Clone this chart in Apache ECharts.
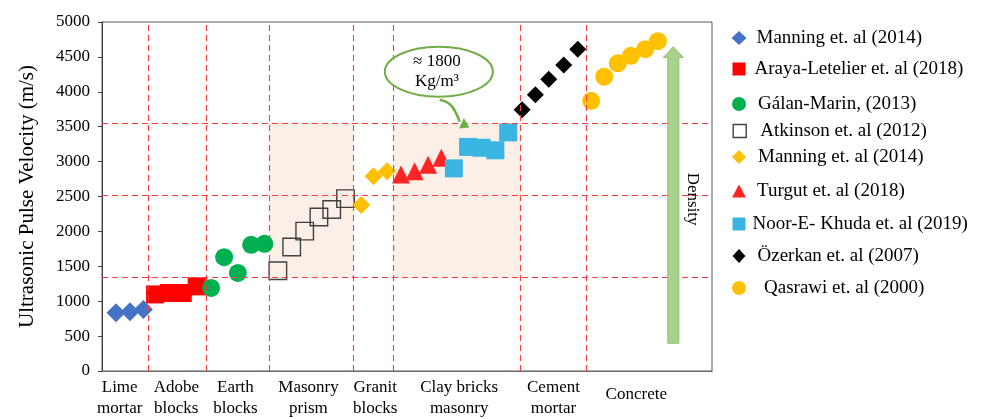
<!DOCTYPE html>
<html>
<head>
<meta charset="utf-8">
<title>Ultrasonic Pulse Velocity by material</title>
<script src="https://cdn.jsdelivr.net/npm/echarts@6/dist/echarts.min.js"></script>
<style>
  html, body { margin: 0; padding: 0; background: #ffffff; }
  #chart { width: 984px; height: 419px; }
</style>
</head>
<body>
<div id="chart"></div>
<script>
// ---- Material groups along the horizontal axis (position units 0..100) ----
const categories = ['Lime\nmortar', 'Adobe\nblocks', 'Earth\nblocks', 'Masonry\nprism', 'Granit\nblocks', 'Clay bricks\nmasonry', 'Cement\nmortar', 'Concrete'];
const categoryEdges = [7.50, 17.11, 27.35, 41.24, 47.80, 68.59, 79.42];
const categoryLabelAt = [2.90, 12.18, 21.87, 33.85, 44.80, 58.55, 74.01, 87.59];

// ---- Density band limits (UPV, m/s) ----
const densityBands = [1340, 2520, 3555];
// shaded groups: [from, to] along the position axis
const shadedGroups = [[27.35, 41.24], [47.80, 68.59]];

// ---- Measured points: position along axis and UPV (m/s) ----
const manningLimePos = [2.30, 4.59, 6.78];
const manningLimeUpv = [835, 850, 880];

const arayaPos = [8.70, 10.99, 13.24, 15.52];
const arayaUpv = [1097, 1117, 1117, 1212];

const galanPos = [17.89, 20.02, 22.27, 24.45, 26.63];
const galanUpv = [1190, 1630, 1405, 1808, 1822];

const atkinsonPos = [28.83, 31.10, 33.23, 35.56, 37.66, 39.92];
const atkinsonUpv = [1437, 1776, 2004, 2206, 2313, 2469];

const manningGranitePos = [42.50, 44.52, 46.72];
const manningGraniteUpv = [2377, 2790, 2860];

const turgutPos = [49.02, 51.25, 53.45, 55.63];
const turgutUpv = [2815, 2860, 2955, 3055];

const noorPos = [57.68, 60.01, 62.24, 64.49, 66.59];
const noorUpv = [2903, 3210, 3198, 3162, 3418];

const ozerkanPos = [68.87, 71.05, 73.24, 75.70, 77.99];
const ozerkanUpv = [3743, 3957, 4180, 4384, 4611];

const qasrawiPos = [80.19, 82.33, 84.56, 86.69, 89.05, 91.12];
const qasrawiUpv = [3871, 4217, 4408, 4516, 4611, 4725];

// ---- Annotations ----
const densityArrow = { pos: 93.66, from: 398, to: 4644 };
const densityLabel = { pos: 96.75, upv: 2462, text: 'Density' };
const calloutAnchor = { pos: 55.22, upv: 4288 };
const calloutLines = ['\u2248 1800', 'Kg/m\u00B3'];

const SERIF = "'Liberation Serif', 'Times New Roman', serif";

function pairs(xs, ys) { return xs.map((x, i) => [x, ys[i]]); }

const seriesDefs = [
  { name: 'Manning et. al (2014)', pos: manningLimePos, upv: manningLimeUpv, symbol: 'diamond', size: [19, 19], style: { color: '#4472c4' } },
  { name: 'Araya-Letelier et. al (2018)', pos: arayaPos, upv: arayaUpv, symbol: 'rect', size: 18, style: { color: '#ff0000' } },
  { name: 'Gálan-Marin, (2013)', pos: galanPos, upv: galanUpv, symbol: 'circle', size: 18, style: { color: '#00b050' } },
  { name: 'Atkinson et. al (2012)', pos: atkinsonPos, upv: atkinsonUpv, symbol: 'rect', size: 17.5, style: { color: 'rgba(0,0,0,0)', borderColor: '#404040', borderWidth: 1.4 } },
  { name: 'Manning et. al (2014) ', pos: manningGranitePos, upv: manningGraniteUpv, symbol: 'diamond', size: [18, 18], style: { color: '#ffc000' } },
  { name: 'Turgut et. al (2018)', pos: turgutPos, upv: turgutUpv, symbol: 'triangle', size: [18, 18], style: { color: '#ff2525' } },
  { name: 'Noor-E- Khuda et. al (2019)', pos: noorPos, upv: noorUpv, symbol: 'rect', size: 18, style: { color: '#3ab4e0' } },
  { name: 'Özerkan et. al (2007)', pos: ozerkanPos, upv: ozerkanUpv, symbol: 'diamond', size: [17, 17], style: { color: '#000000' } },
  { name: 'Qasrawi et. al (2000)', pos: qasrawiPos, upv: qasrawiUpv, symbol: 'circle', size: 18, style: { color: '#ffc000' } }
];

// legend layout: row centre (px) and text indent
const legendRows = [
  { cy: 38, indent: 5, icon: 'diamond', w: 15, h: 14 },
  { cy: 69, indent: 4, icon: 'rect', w: 13, h: 13 },
  { cy: 104, indent: 7, icon: 'circle', w: 14, h: 14 },
  { cy: 131, indent: 9, icon: 'rect', w: 13, h: 13 },
  { cy: 157, indent: 7, icon: 'diamond', w: 14, h: 14 },
  { cy: 191, indent: 6, icon: 'triangle', w: 14, h: 13 },
  { cy: 224, indent: 2, icon: 'rect', w: 13, h: 13 },
  { cy: 256, indent: 7, icon: 'diamond', w: 13, h: 14 },
  { cy: 288, indent: 13, icon: 'circle', w: 14, h: 14 }
];

const chart = echarts.init(document.getElementById('chart'), null, { renderer: 'canvas' });

const dashRed = { color: '#ff3b3b', width: 1.1, type: [6, 4] };

const series = [
  {
    name: 'guides',
    type: 'line',
    data: [],
    silent: true,
    z: 1,
    markArea: {
      silent: true,
      itemStyle: { color: '#fcefe8' },
      data: shadedGroups.map(g => [
        { xAxis: g[0], yAxis: densityBands[0] },
        { xAxis: g[1], yAxis: densityBands[2] }
      ])
    },
    markLine: {
      silent: true,
      symbol: ['none', 'none'],
      label: { show: false },
      lineStyle: dashRed,
      animation: false,
      data: categoryEdges.map(v => ({ xAxis: v })).concat(densityBands.map(v => ({ yAxis: v })))
    }
  }
].concat(seriesDefs.map(d => ({
  name: d.name,
  type: 'scatter',
  symbol: d.symbol,
  symbolSize: d.size,
  itemStyle: Object.assign({ opacity: 1 }, d.style),
  data: pairs(d.pos, d.upv),
  z: 3
})));

const legends = seriesDefs.map((d, i) => {
  const r = legendRows[i];
  return {
    orient: 'vertical',
    left: 739 - r.w / 2,
    top: r.cy - 11,
    padding: 0,
    itemWidth: r.w,
    itemHeight: r.h,
    selectedMode: false,
    textStyle: { fontFamily: SERIF, fontSize: 19, color: '#000', lineHeight: 22, padding: [0, 0, 0, r.indent] },
    data: [{ name: d.name, icon: r.icon, itemStyle: Object.assign({}, d.style) }],
    formatter: n => n.trim()
  };
});

chart.setOption({
  animation: false,
  backgroundColor: '#ffffff',
  grid: { left: 102, right: 272, top: 22, bottom: 46, show: true, borderColor: '#5a5a5a', borderWidth: 1 },
  xAxis: {
    type: 'value',
    min: 0,
    max: 100,
    splitLine: { show: false },
    axisTick: { show: false },
    axisLine: { lineStyle: { color: '#6b6b6b' } },
    axisLabel: {
      customValues: categoryLabelAt,
      margin: 6,
      fontFamily: SERIF,
      fontSize: 17,
      lineHeight: 21,
      color: '#000',
      verticalAlign: 'top',
      formatter: v => {
        const i = categoryLabelAt.indexOf(v);
        const t = categories[i] || '';
        return t.indexOf('\n') < 0 ? '{one|' + t + '}' : t;
      },
      rich: { one: { fontFamily: SERIF, fontSize: 17, lineHeight: 35, color: '#000' } }
    }
  },
  yAxis: {
    type: 'value',
    min: 0,
    max: 5000,
    interval: 500,
    name: 'Ultrasonic Pulse Velocity (m/s)',
    nameLocation: 'middle',
    nameGap: 64,
    nameTextStyle: { fontFamily: SERIF, fontSize: 21, color: '#000' },
    splitLine: { show: false },
    axisLine: { show: true, lineStyle: { color: '#404040' } },
    axisTick: { show: true, length: 4, lineStyle: { color: '#404040' } },
    axisLabel: { fontFamily: SERIF, fontSize: 17, color: '#000', margin: 12, formatter: v => String(v) }
  },
  legend: legends,
  series: series
});

// annotations anchored to data coordinates
function px(pos, upv) { return chart.convertToPixel({ gridIndex: 0 }, [pos, upv]); }

const tail = px(densityArrow.pos, densityArrow.from);
const tip = px(densityArrow.pos, densityArrow.to);
const ax = tail[0];
const shaftHalf = 5.5, headHalf = 10, headLen = 10.6;
const lbl = px(densityLabel.pos, densityLabel.upv);
const c = px(calloutAnchor.pos, calloutAnchor.upv);

chart.setOption({
  graphic: [
    {
      type: 'polygon',
      z: 10,
      shape: { points: [
        [ax - shaftHalf, tail[1]], [ax - shaftHalf, tip[1] + headLen], [ax - headHalf, tip[1] + headLen],
        [ax, tip[1]], [ax + headHalf, tip[1] + headLen], [ax + shaftHalf, tip[1] + headLen], [ax + shaftHalf, tail[1]]
      ] },
      style: { fill: '#a9d18e', stroke: '#8cbf6c', lineWidth: 1 }
    },
    {
      type: 'text',
      z: 10,
      x: lbl[0], y: lbl[1],
      rotation: -Math.PI / 2,
      style: { text: densityLabel.text, font: '17px ' + SERIF, fill: '#000', align: 'center', verticalAlign: 'middle', textAlign: 'center', textVerticalAlign: 'middle' }
    },
    {
      type: 'ellipse',
      z: 10,
      shape: { cx: c[0], cy: c[1], rx: 54, ry: 25 },
      style: { fill: '#ffffff', stroke: '#70ad47', lineWidth: 2 }
    },
    {
      type: 'text',
      z: 11,
      x: c[0] - 2, y: c[1] - 10,
      style: { text: calloutLines[0], font: '17px ' + SERIF, fill: '#000', align: 'center', verticalAlign: 'middle', textAlign: 'center', textVerticalAlign: 'middle' }
    },
    {
      type: 'text',
      z: 11,
      x: c[0] - 2, y: c[1] + 10,
      style: { text: calloutLines[1], font: '17px ' + SERIF, fill: '#000', align: 'center', verticalAlign: 'middle', textAlign: 'center', textVerticalAlign: 'middle' }
    },
    {
      type: 'bezierCurve',
      z: 10,
      shape: { x1: c[0] + 0.8, y1: c[1] + 28.3, cpx1: c[0] + 11.5, cpy1: c[1] + 29.3, cpx2: c[0] + 15.5, cpy2: c[1] + 36.3, x2: c[0] + 21, y2: c[1] + 50 },
      style: { stroke: '#70ad47', lineWidth: 2.5, fill: null }
    },
    {
      type: 'polygon',
      z: 10,
      shape: { points: [[c[0] + 20.3, c[1] + 56.8], [c[0] + 25, c[1] + 46.3], [c[0] + 30.5, c[1] + 55.8]] },
      style: { fill: '#70ad47' }
    }
  ]
});
</script>
</body>
</html>
